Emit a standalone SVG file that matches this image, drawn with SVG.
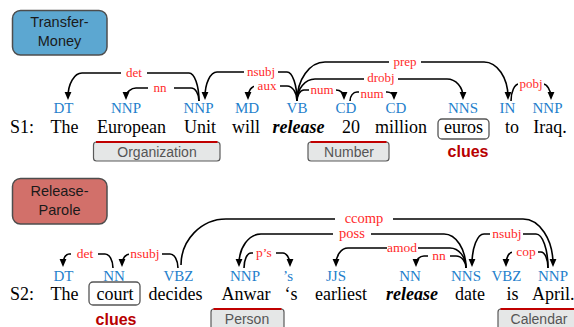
<svg xmlns="http://www.w3.org/2000/svg" width="574" height="327" viewBox="0 0 574 327">
<style>
.w{font-family:"Liberation Serif","Times New Roman",serif;font-size:18px;fill:#000;text-anchor:middle}
.b{font-weight:bold;font-style:italic}
.p{font-family:"Liberation Serif","Times New Roman",serif;font-size:15px;fill:#1f7fcc;text-anchor:middle}
.l{font-family:"Liberation Serif","Times New Roman",serif;font-size:13px;fill:#ff2a2a;text-anchor:middle}
.l2{font-family:"Liberation Serif","Times New Roman",serif;font-size:13.5px;fill:#ff2a2a;text-anchor:middle}
.l3{font-family:"Liberation Serif","Times New Roman",serif;font-size:14.5px;fill:#ff2a2a;text-anchor:middle}
.arc{fill:none;stroke:#000;stroke-width:1.6;marker-end:url(#ah)}
.gap{fill:#fff}
.ev{stroke:#4d4d4d;stroke-width:1.5}
.evt{font-family:"Liberation Sans",Arial,sans-serif;font-size:14.5px;fill:#1a1a1a;text-anchor:middle}
.ent{fill:#e5e7e7;stroke:#5a5a5a;stroke-width:1.2}
.entr{stroke:#c00000;stroke-width:2.2;fill:none}
.entt{font-family:"Liberation Sans",Arial,sans-serif;font-size:14px;fill:#555;text-anchor:middle}
.clue{font-family:"Liberation Sans",Arial,sans-serif;font-size:16px;font-weight:bold;fill:#b80000;text-anchor:middle}
.wb{fill:none;stroke:#555;stroke-width:1.3}
</style>
<defs>
<marker id="ah" viewBox="0 0 8 8" refX="5" refY="4" markerWidth="8" markerHeight="8" markerUnits="userSpaceOnUse" orient="auto">
<path d="M0,0.6 L8,4 L0,7.4 z" fill="#000"/>
</marker>
</defs>

<!-- Event type boxes -->
<g id="event-transfer-money">
<rect class="ev" x="12.5" y="10.5" width="94.5" height="44.5" rx="8" fill="#5ca7d1"/>
<text class="evt" x="59.5" y="27">Transfer-</text>
<text class="evt" x="59.5" y="46">Money</text>
</g>
<g id="event-release-parole">
<rect class="ev" x="12.5" y="178.5" width="94.5" height="45.5" rx="8" fill="#d2706a"/>
<text class="evt" x="59.5" y="196">Release-</text>
<text class="evt" x="59.5" y="215">Parole</text>
</g>

<!-- Connectors -->
<g id="connectors">
<!-- S1 -->
<path class="arc" d="M199,101 C199,85.6 194.5,73 189,73 L82,73 C74.3,73 68,83.8 68,97"/>
<path class="arc" d="M199,101 C199,93.85 195.4,88 191,88 L136,88 C131.5,88 126,92.05 126,97"/>
<path class="arc" d="M297,101 C297,85.05 292.5,72 287,72 L217,72 C210.4,72 205,83.25 205,97"/>
<path class="arc" d="M297,101 C297,92.75 292.5,86 287,86 L256,86 C251.6,86 248,90.95 248,97"/>
<path class="arc" d="M297,101 C297,79.55 309.6,62 325,62 L484,62 C497.2,62 508,77.75 508,97"/>
<path class="arc" d="M297,101 C297,88.9 305.1,79 315,79 L447,79 C455.8,79 463,87.1 463,97"/>
<path class="arc" d="M297,101 C297,94.95 300.15,90 304,90 L336,90 C340.4,90 344,93.15 344,97"/>
<path class="arc" d="M350,101 C350,96 353.15,92 357,92 L387,92 C390.15,92 394,94.2 394,97"/>
<path class="arc" d="M511,101 C511,91.65 514.6,84 519,84 L543,84 C546.6,84 551,89.85 551,97"/>
<!-- S2 -->
<path class="arc" d="M113,268 C113,260.3 109.4,254 105,254 L69,254 C65.7,254 63,258.5 63,264"/>
<path class="arc" d="M178,268 C178,260.3 174.4,254 170,254 L130,254 C125.6,254 122,258.5 122,264"/>
<path class="arc" d="M181,265 C181,240 201.25,219 226,219 L523,219 C539.5,219 553,239.25 553,264"/>
<path class="arc" d="M466,268 C466,249.3 456.1,234 444,234 L261,234 C248.9,234 239,247.5 239,264"/>
<path class="arc" d="M244,268 C244,259.75 247.15,253 251,253 L283,253 C286.15,253 290,257.95 290,264"/>
<path class="arc" d="M466,268 C466,257 458.8,248 450,248 L348,248 C341.4,248 336,255.2 336,264"/>
<path class="arc" d="M466,268 C466,261.4 461.5,256 456,256 L424,256 C419.6,256 416,259.6 416,264"/>
<path class="arc" d="M548,268 C548,249.3 542.6,234 536,234 L484,234 C477.4,234 472,247.5 472,264"/>
<path class="arc" d="M548,268 C548,259.2 544.85,252 541,252 L513,252 C509.15,252 506,257.4 506,264"/>
<!-- label gaps -->
<rect class="gap" x="121" y="70" width="26" height="6"/>
<rect class="gap" x="148" y="85" width="26" height="6"/>
<rect class="gap" x="244" y="69" width="34" height="6"/>
<rect class="gap" x="254" y="83" width="26" height="6"/>
<rect class="gap" x="389" y="59" width="32" height="6"/>
<rect class="gap" x="364" y="76" width="34" height="6"/>
<rect class="gap" x="309" y="87" width="27" height="6"/>
<rect class="gap" x="359" y="89" width="27" height="6"/>
<rect class="gap" x="518" y="81" width="26" height="6"/>
<rect class="gap" x="71" y="251" width="27" height="6"/>
<rect class="gap" x="129" y="251" width="33" height="6"/>
<rect class="gap" x="335" y="216" width="58" height="6"/>
<rect class="gap" x="333" y="231" width="38" height="6"/>
<rect class="gap" x="253" y="250" width="23" height="6"/>
<rect class="gap" x="387" y="245" width="31" height="6"/>
<rect class="gap" x="428" y="253" width="22" height="6"/>
<rect class="gap" x="490" y="231" width="33" height="6"/>
<rect class="gap" x="512" y="249" width="26" height="6"/>
<!-- labels -->
<text class="l" x="134" y="77">det</text>
<text class="l" x="160" y="92">nn</text>
<text class="l" x="261" y="76">nsubj</text>
<text class="l" x="267" y="90">aux</text>
<text class="l" x="405" y="66">prep</text>
<text class="l" x="381" y="82">drobj</text>
<text class="l" x="322" y="94">num</text>
<text class="l" x="372" y="97.5">num</text>
<text class="l" x="531" y="88">pobj</text>
<text class="l2" x="85" y="258">det</text>
<text class="l2" x="145" y="258">nsubj</text>
<text class="l3" x="364" y="223">ccomp</text>
<text class="l3" x="352" y="238">poss</text>
<text class="l2" x="264" y="257">p’s</text>
<text class="l2" x="402" y="252">amod</text>
<text class="l2" x="439" y="260">nn</text>
<text class="l2" x="507" y="238">nsubj</text>
<text class="l2" x="526" y="256">cop</text>
</g>

<!-- Sentence 1 -->
<g id="s1-label"><text class="w" x="10" y="133" style="text-anchor:start">S1:</text></g>
<g id="s1-the"><text class="p" x="63.5" y="113">DT</text><text class="w" x="64.5" y="133">The</text></g>
<g id="s1-european"><text class="p" x="126" y="113">NNP</text><text class="w" x="131.5" y="133">European</text></g>
<g id="s1-unit"><text class="p" x="198.5" y="113">NNP</text><text class="w" x="200" y="133">Unit</text></g>
<g id="s1-will"><text class="p" x="247" y="113">MD</text><text class="w" x="246" y="133">will</text></g>
<g id="s1-release"><text class="p" x="297" y="113">VB</text><text class="w b" x="298.5" y="133">release</text></g>
<g id="s1-20"><text class="p" x="346" y="113">CD</text><text class="w" x="351" y="133">20</text></g>
<g id="s1-million"><text class="p" x="396" y="113">CD</text><text class="w" x="401" y="133">million</text></g>
<g id="s1-euros"><text class="p" x="463" y="113">NNS</text><rect class="wb" x="438" y="119" width="51" height="20" rx="4"/><text class="w" x="463.5" y="133">euros</text></g>
<g id="s1-to"><text class="p" x="507.5" y="113">IN</text><text class="w" x="512" y="133">to</text></g>
<g id="s1-iraq"><text class="p" x="547.5" y="113">NNP</text><text class="w" x="550" y="133">Iraq.</text></g>
<g id="s1-organization"><rect class="ent" x="93.5" y="142" width="126.5" height="19" rx="3"/><path class="entr" d="M96,142 L217.5,142"/><text class="entt" x="157" y="157">Organization</text></g>
<g id="s1-number"><rect class="ent" x="308" y="142" width="81" height="19" rx="3"/><path class="entr" d="M310.5,142 L386.5,142"/><text class="entt" x="349" y="157">Number</text></g>
<g id="s1-clues"><text class="clue" x="468" y="157">clues</text></g>

<!-- Sentence 2 -->
<g id="s2-label"><text class="w" x="10" y="300" style="text-anchor:start">S2:</text></g>
<g id="s2-the"><text class="p" x="63.5" y="281">DT</text><text class="w" x="64.5" y="300">The</text></g>
<g id="s2-court"><text class="p" x="114" y="281">NN</text><rect class="wb" x="89" y="282" width="51" height="23" rx="4"/><text class="w" x="115" y="300">court</text></g>
<g id="s2-decides"><text class="p" x="178.5" y="281">VBZ</text><text class="w" x="175.5" y="300">decides</text></g>
<g id="s2-anwar"><text class="p" x="245" y="281">NNP</text><text class="w" x="246" y="300">Anwar</text></g>
<g id="s2-s"><text class="p" x="288" y="281">’s</text><text class="w" x="291" y="300">‘s</text></g>
<g id="s2-earliest"><text class="p" x="336" y="281">JJS</text><text class="w" x="341" y="300">earliest</text></g>
<g id="s2-release"><text class="p" x="410" y="281">NN</text><text class="w b" x="412" y="300">release</text></g>
<g id="s2-date"><text class="p" x="466" y="281">NNS</text><text class="w" x="470" y="300">date</text></g>
<g id="s2-is"><text class="p" x="506.5" y="281">VBZ</text><text class="w" x="512.5" y="300">is</text></g>
<g id="s2-april"><text class="p" x="553" y="281">NNP</text><text class="w" x="532" y="300" style="text-anchor:start">April.</text></g>
<g id="s2-clues"><text class="clue" x="116" y="325">clues</text></g>
<g id="s2-person"><rect class="ent" x="211" y="309" width="73" height="24" rx="3"/><path class="entr" d="M213.5,309 L281.5,309"/><text class="entt" x="247" y="324">Person</text></g>
<g id="s2-calendar"><rect class="ent" x="498" y="309" width="84" height="24" rx="3"/><path class="entr" d="M500.5,309 L582,309"/><text class="entt" x="539" y="324">Calendar</text></g>
</svg>
